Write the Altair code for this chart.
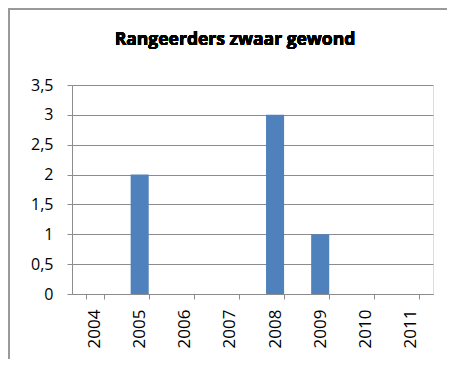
import altair as alt
import pandas as pd

years = ["2004", "2005", "2006", "2007", "2008", "2009", "2010", "2011"]
values = [0, 2, 0, 0, 3, 1, 0, 0]
y_ticks = [0, 0.5, 1, 1.5, 2, 2.5, 3, 3.5]
title_text = "Rangeerders zwaar gewond"

df = pd.DataFrame({"year": years, "value": values})

FONT = "Open Sans"
GRID = "#8c8c8c"

bars = alt.Chart(df).mark_bar(color="#4F81BD").encode(
    x=alt.X(
        "year:N",
        sort=years,
        scale=alt.Scale(paddingInner=0.6, paddingOuter=0.3),
        axis=alt.Axis(
            title=None,
            labelAngle=-90,
            labelFont=FONT,
            labelFontSize=17,
            labelColor="#000000",
            labelPadding=10,
            tickBand="extent",
            tickSize=5,
            tickColor=GRID,
            domainColor=GRID,
            grid=False,
        ),
    ),
    y=alt.Y(
        "value:Q",
        scale=alt.Scale(domain=[0, 3.5], nice=False),
        axis=alt.Axis(
            title=None,
            values=y_ticks,
            labelExpr="replace(toString(datum.value), '.', ',')",
            labelFont=FONT,
            labelFontSize=16,
            labelColor="#000000",
            labelPadding=14,
            tickSize=5,
            tickColor=GRID,
            domainColor=GRID,
            gridColor=GRID,
            gridOpacity=1,
            gridWidth=1,
        ),
    ),
)

# outer chart frame (decoration)
frame_left = alt.Chart(df).mark_rule(color="#9a9a9a", strokeWidth=2).encode(
    x=alt.value(-63), y=alt.value(-77), y2=alt.value(275)
)
frame_top = alt.Chart(df).mark_rule(color="#9a9a9a", strokeWidth=2).encode(
    x=alt.value(-63), x2=alt.value(380), y=alt.value(-76)
)

title_mark = alt.Chart(df).mark_text(
    font=FONT, fontSize=17.5, fontWeight="bold", color="#000000",
    align="center", baseline="alphabetic",
).encode(
    x=alt.value(163), y=alt.value(-40), text=alt.value(title_text)
)

chart = (
    alt.layer(bars, frame_left, frame_top, title_mark)
    .properties(
        width=361,
        height=209,
        autosize=alt.AutoSizeParams(type="none"),
        padding={"left": 64, "top": 77, "right": 14, "bottom": 65},
    )
    .configure_view(stroke=None)
    .configure(background="white")
)

chart.save("out.html", embed_options={"renderer": "svg", "actions": False})
